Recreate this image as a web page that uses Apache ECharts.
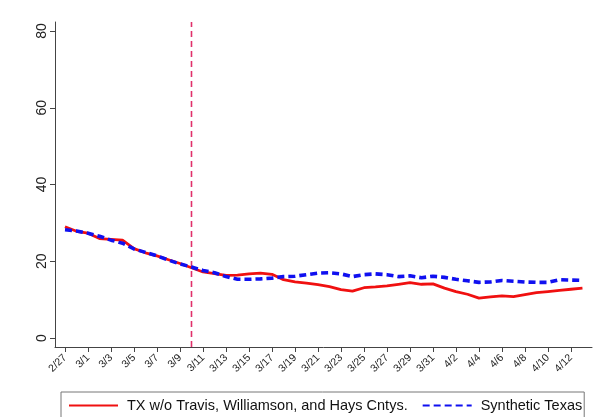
<!DOCTYPE html>
<html>
<head>
<meta charset="utf-8">
<script src="https://cdn.jsdelivr.net/npm/echarts@6/dist/echarts.min.js"></script>
<style>
html,body{margin:0;padding:0;background:#fff;}
#chart{width:595px;height:417px;}
</style>
</head>
<body>
<div id="chart"></div>
<script>
const dates = ["2/27","2/28","3/1","3/2","3/3","3/4","3/5","3/6","3/7","3/8","3/9","3/10","3/11","3/12","3/13","3/14","3/15","3/16","3/17","3/18","3/19","3/20","3/21","3/22","3/23","3/24","3/25","3/26","3/27","3/28","3/29","3/30","3/31","4/1","4/2","4/3","4/4","4/5","4/6","4/7","4/8","4/9","4/10","4/11","4/12","4/13"];
const txSeries = [29.0,27.8,27.3,25.9,25.7,25.5,23.3,22.2,21.4,20.4,19.4,18.3,17.2,16.8,16.3,16.4,16.7,16.9,16.6,15.2,14.6,14.3,13.9,13.4,12.6,12.2,13.1,13.3,13.6,14.0,14.4,14.0,14.1,13.0,12.1,11.4,10.4,10.7,11.0,10.8,11.3,11.8,12.1,12.4,12.7,13.0];
const synthSeries = [28.2,27.9,27.3,26.5,25.5,24.7,23.2,22.3,21.4,20.3,19.3,18.5,17.6,17.0,16.0,15.3,15.3,15.4,15.6,16.0,16.1,16.5,16.9,17.0,16.7,16.0,16.5,16.7,16.5,16.0,16.2,15.7,16.1,15.8,15.3,14.9,14.5,14.6,15.0,14.8,14.6,14.5,14.5,15.2,15.1,15.0];
const yTicks = [0,20,40,60,80];
const xTickIdx = [0,2,4,6,8,10,12,14,16,18,20,22,24,26,28,30,32,34,36,38,40,42,44];
const treatmentDate = "3/10";
const seriesNames = ["TX w/o Travis, Williamson, and Hays Cntys.","Synthetic Texas"];

const font = "'Liberation Sans', Arial, Helvetica, sans-serif";
const Y_MIN = -2.35, Y_MAX = 82.35;
const chart = echarts.init(document.getElementById('chart'), null, {renderer:'canvas'});
const pairs = (arr) => arr.map((v,i)=>[i,v]);
const tIdx = dates.indexOf(treatmentDate);

chart.setOption({
  animation:false,
  backgroundColor:'#fff',
  textStyle:{fontFamily:font},
  grid:{left:55, top:22, right:3, bottom:70, containLabel:false},
  xAxis:{
    type:'value', min:-0.87, max:45.83,
    axisLine:{show:true, onZero:false, lineStyle:{color:'#444', width:1}},
    axisTick:{show:true, length:5, lineStyle:{color:'#444'}, customValues:xTickIdx},
    axisLabel:{rotate:45, fontSize:10.5, color:'#222', margin:9, fontFamily:font,
      customValues:xTickIdx, formatter:(v)=>dates[Math.round(v)]},
    splitLine:{show:false}
  },
  yAxis:{
    type:'value', min:Y_MIN, max:Y_MAX,
    axisLine:{show:true, onZero:false, lineStyle:{color:'#444', width:1}},
    axisTick:{show:true, length:5, lineStyle:{color:'#444'}, customValues:yTicks},
    axisLabel:{rotate:90, fontSize:14, color:'#222', margin:6, fontFamily:font, customValues:yTicks},
    splitLine:{show:false}
  },
  legend:{
    left:61, top:392,
    padding:[6,2,8,7],
    borderColor:'#777', borderWidth:1,
    itemWidth:49, itemHeight:14, itemGap:14,
    itemStyle:{color:'rgba(0,0,0,0)', borderWidth:0, opacity:0},
    textStyle:{fontSize:14.5, color:'#111', fontFamily:font, padding:[0,0,0,4]},
    data:seriesNames
  },
  series:[
    {
      name:seriesNames[0], type:'line', data:pairs(txSeries),
      symbol:'none', showSymbol:false, smooth:false,
      lineStyle:{color:'#f01010', width:2.8},
      itemStyle:{color:'#f01010'},
      z:2
    },
    {
      name:seriesNames[1], type:'line', data:pairs(synthSeries),
      symbol:'none', showSymbol:false, smooth:false,
      lineStyle:{color:'#1010f0', width:3.6, type:[7,4]},
      itemStyle:{color:'#1010f0'},
      z:3
    },
    {
      name:'treatment', type:'line',
      data:[[tIdx, Y_MIN],[tIdx, Y_MAX]],
      symbol:'none', showSymbol:false, silent:true,
      color:'#e0306a',
      lineStyle:{color:'#e0306a', width:1.6, type:[6,4], opacity:1},
      itemStyle:{color:'#e0306a'},
      z:1
    }
  ]
});
</script>
</body>
</html>
